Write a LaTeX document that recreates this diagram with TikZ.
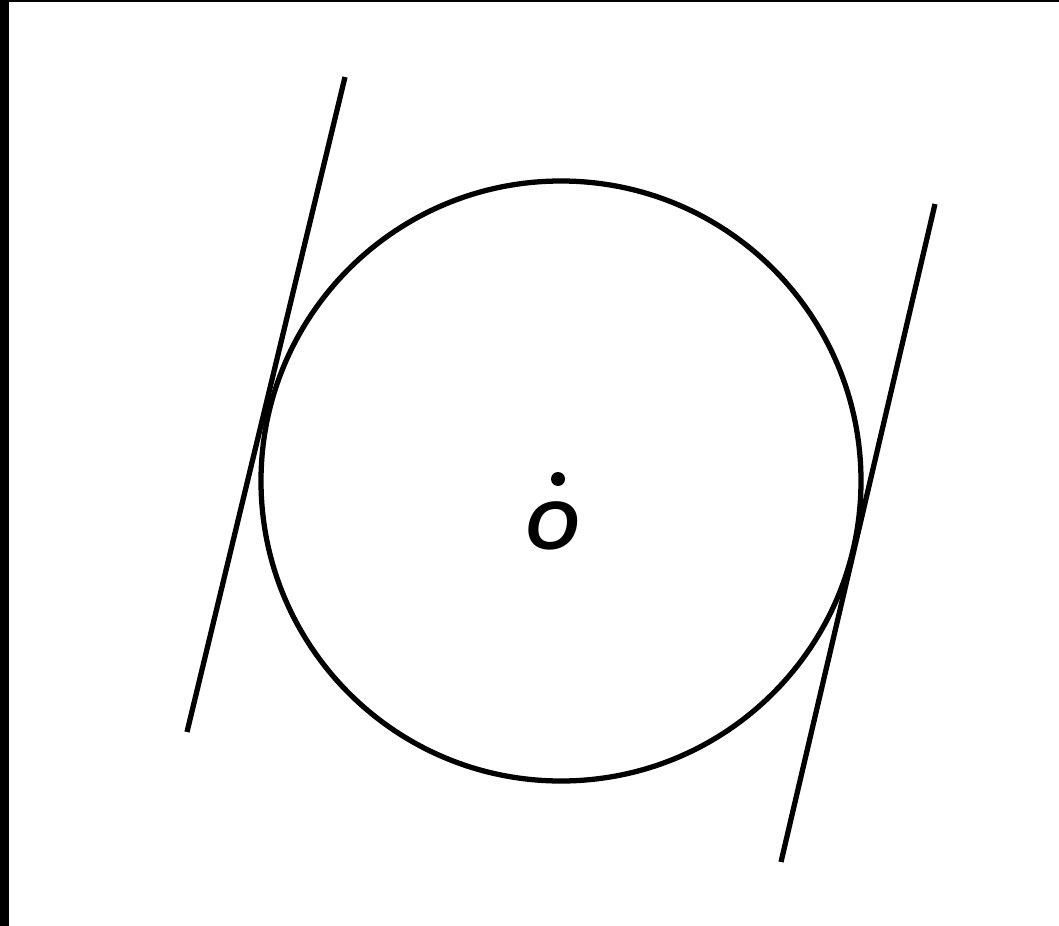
\documentclass[tikz,border=0pt]{standalone}
\usepackage{fontspec}
\newfontfamily\lblfont{Liberation Sans}
\begin{document}
\begin{tikzpicture}[x=0.02cm,y=-0.02cm,
  geo/.style={line width=3pt,black},
  edgestrip/.style={fill=black,draw=none}]
\useasboundingbox (0,0) rectangle (1059,926);
\fill[white] (0,0) rectangle (1059,926);
\fill[edgestrip] (0,0) rectangle (1059,2.5);
\fill[edgestrip] (0,0) rectangle (9,926);
\coordinate (O) at (561,481);
\draw[geo] (O) circle[radius=300];
\coordinate (L1) at (345,77);
\coordinate (L2) at (187,732);
\coordinate (R1) at (935,204);
\coordinate (R2) at (781,862);
\draw[geo] (L1) -- (L2);
\draw[geo] (R1) -- (R2);
\fill (558,479) circle[radius=7];
\node[inner sep=0pt] (lbl) at (552,526) {\lblfont\bfseries\itshape\fontsize{39}{46}\selectfont O};
\end{tikzpicture}
\end{document}
